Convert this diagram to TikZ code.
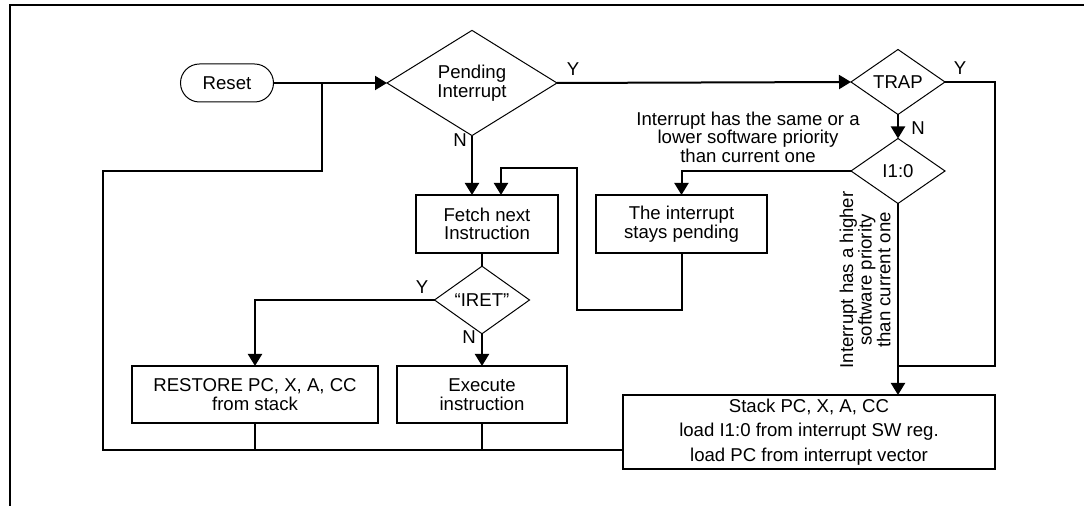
\documentclass[tikz,border=0pt]{standalone}
\usepackage{fontspec}
\setmainfont{Liberation Sans}
\usetikzlibrary{shapes.geometric,arrows.meta}
\tikzset{
  txt/.style={font=\fontsize{9.3}{9.3}\selectfont, align=center},
  box/.style={txt, draw, line width=1pt, inner sep=0pt, outer sep=0pt},
  dec/.style={txt, draw, diamond, line width=0.5pt, inner sep=0pt, outer sep=0pt},
  startbox/.style={txt, draw, line width=0.5pt, rounded corners=9.5pt, inner sep=0pt, outer sep=0pt, minimum width=46.5pt, minimum height=19pt},
  conn/.style={line width=1pt},
  arr/.style={conn, -{Triangle[length=6pt,width=7pt]}},
  lbl/.style={txt, inner sep=0pt},
}
\begin{document}
\begin{tikzpicture}[x=0.5pt,y=-0.5pt]
\useasboundingbox (0,0) rectangle (1084,506);
% frame
\draw[line width=1pt] (10,506) -- (10,5) -- (1084,5);

% nodes
\node[startbox] (reset) at (227,83) {Reset};
\node[dec, minimum width=85pt, minimum height=37.5pt] (pend) at (472,83) {Pending\\Interrupt};
\node[dec, minimum width=47pt, minimum height=32.5pt] (trap) at (898,82) {TRAP};
\node[dec, minimum width=47pt, minimum height=32.5pt] (i10) at (898,171) {I1:0};
\node[box, minimum width=71pt, minimum height=29pt] (fetch) at (487,224) {Fetch next\\Instruction};
\node[box, minimum width=85.5pt, minimum height=29pt] (spend) at (681.5,224) {The interrupt\\stays pending};
\node[dec, minimum width=47.5pt, minimum height=27.5pt] (iret) at (482,300) {“IRET”};
\node[box, minimum width=123pt, minimum height=28.5pt] (restore) at (255,394.5) {RESTORE PC, X, A, CC\\from stack};
\node[box, minimum width=85pt, minimum height=28.5pt] (exec) at (482,394.5) {Execute\\instruction};
\node[box, minimum width=186pt, minimum height=37pt, font=\fontsize{9.3}{12.2}\selectfont] (stack) at (809,432) {Stack PC, X, A, CC\\load I1:0 from interrupt SW reg.\\load PC from interrupt vector};

% labels
\node[lbl] (lpy) at (573,69) {Y};
\node[lbl] (lpn) at (460,140) {N};
\node[lbl] (lty) at (960,68) {Y};
\node[lbl] (ltn) at (918,128) {N};
\node[lbl] (liy) at (422,287) {Y};
\node[lbl] (lin) at (469,337) {N};
\node[lbl] (llow) at (748,137) {Interrupt has the same or a\\lower software priority\\than current one};
\node[lbl, rotate=90] (lhigh) at (865,280) {Interrupt has a higher\\software priority\\than current one};

% coordinates
\coordinate (j1) at (322,83);
\coordinate (lp) at (103,171);
\coordinate (bl) at (103,450);
\coordinate (r1) at (577,310);
\coordinate (r2) at (501,168);
\coordinate (t1) at (995,366);

% connectors
\draw[arr] (reset.east) -- (pend.west);
\draw[conn] (bl -| stack.west) -- (bl) -- (lp) -| (j1);
\draw[conn] (restore.south) -- (restore.south |- bl);
\draw[conn] (exec.south) -- (exec.south |- bl);
\draw[arr] (pend.south) -- (pend.south |- fetch.north);
\draw[arr] (spend.south) |- (r1) |- (r2) -- (r2 |- fetch.north);
\draw[conn] (iret.north |- fetch.south) -- (iret.north);
\draw[arr] (iret.west) -| (restore.north);
\draw[arr] (iret.south) -- (exec.north);
\draw[arr] (pend.east) -- (trap.west);
\draw[conn] (trap.east) -| (t1) -- (t1 -| i10.south);
\draw[arr] (trap.south) -- (i10.north);
\draw[arr] (i10.west) -| (spend.north);
\draw[arr] (i10.south) -- (i10.south |- stack.north);
\end{tikzpicture}
\end{document}
